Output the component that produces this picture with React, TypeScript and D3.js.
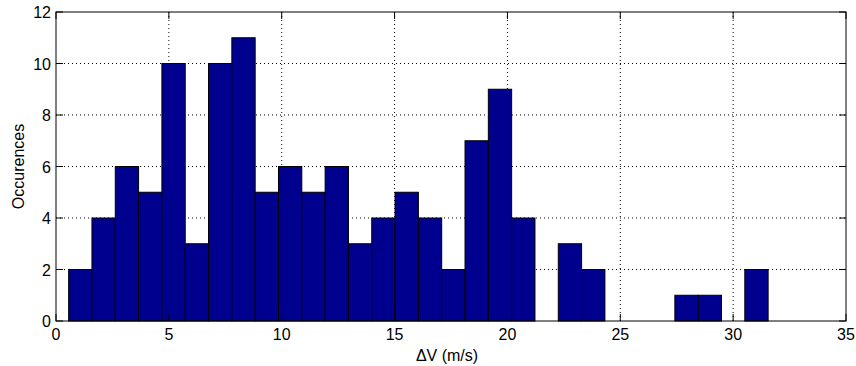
import React from "react";
import * as d3 from "d3";

const counts = [2, 4, 6, 5, 10, 3, 10, 11, 5, 6, 5, 6, 3, 4, 5, 4, 2, 7, 9, 4, 0, 3, 2, 0, 0, 0, 1, 1, 0, 2];
const binLo = 0.56;
const binHi = 31.55;
const xTicks = [0, 5, 10, 15, 20, 25, 30, 35];
const yTicks = [0, 2, 4, 6, 8, 10, 12];
const xLabel = "ΔV (m/s)";
const yLabel = "Occurences";

export default function App() {
  const W = 856, H = 366;
  const L = 56, R = 846, T = 12, B = 321;
  const x = d3.scaleLinear().domain([0, 35]).range([L, R]);
  const y = d3.scaleLinear().domain([0, 12]).range([B, T]);
  const bw = (binHi - binLo) / counts.length;
  const font = "'Liberation Sans', Arial, sans-serif";
  const tick = 7;
  const fs = 16;
  return (
    <svg width={W} height={H} style={{ position: "absolute", left: 0, top: 0 }} fontFamily={font}>
      <rect x={0} y={0} width={W} height={H} fill="#fff" />
      {xTicks.slice(1, -1).map((t) => (
        <line key={"gx" + t} x1={x(t)} x2={x(t)} y1={B} y2={T} stroke="#000" strokeWidth={1} strokeDasharray="1,3" />
      ))}
      {yTicks.slice(1, -1).map((t) => (
        <line key={"gy" + t} x1={L} x2={R} y1={y(t)} y2={y(t)} stroke="#000" strokeWidth={1} strokeDasharray="1,3" />
      ))}
      {counts.map((c, i) =>
        c > 0 ? (
          <rect
            key={"b" + i}
            x={x(binLo + i * bw)}
            y={y(c)}
            width={x(binLo + (i + 1) * bw) - x(binLo + i * bw)}
            height={y(0) - y(c)}
            fill="#00008F"
            stroke="#000"
            strokeWidth={1}
          />
        ) : null
      )}
      <rect x={L} y={T} width={R - L} height={B - T} fill="none" stroke="#000" strokeWidth={1} />
      {xTicks.map((t) => (
        <g key={"tx" + t}>
          <line x1={x(t)} x2={x(t)} y1={B} y2={B - tick} stroke="#000" />
          <line x1={x(t)} x2={x(t)} y1={T} y2={T + tick} stroke="#000" />
          <text x={x(t)} y={B + 19} textAnchor="middle" fontSize={fs} fill="#000">
            {t}
          </text>
        </g>
      ))}
      {yTicks.map((t) => (
        <g key={"ty" + t}>
          <line x1={L} x2={L + tick} y1={y(t)} y2={y(t)} stroke="#000" />
          <line x1={R} x2={R - tick} y1={y(t)} y2={y(t)} stroke="#000" />
          <text x={L - 5} y={y(t) + 6} textAnchor="end" fontSize={fs} fill="#000">
            {t}
          </text>
        </g>
      ))}
      <text x={(L + R) / 2 - 4} y={361} textAnchor="middle" fontSize={fs} fill="#000">
        {xLabel}
      </text>
      <text
        transform={`translate(24, ${(T + B) / 2}) rotate(-90)`}
        textAnchor="middle"
        fontSize={fs}
        fill="#000"
      >
        {yLabel}
      </text>
    </svg>
  );
}
